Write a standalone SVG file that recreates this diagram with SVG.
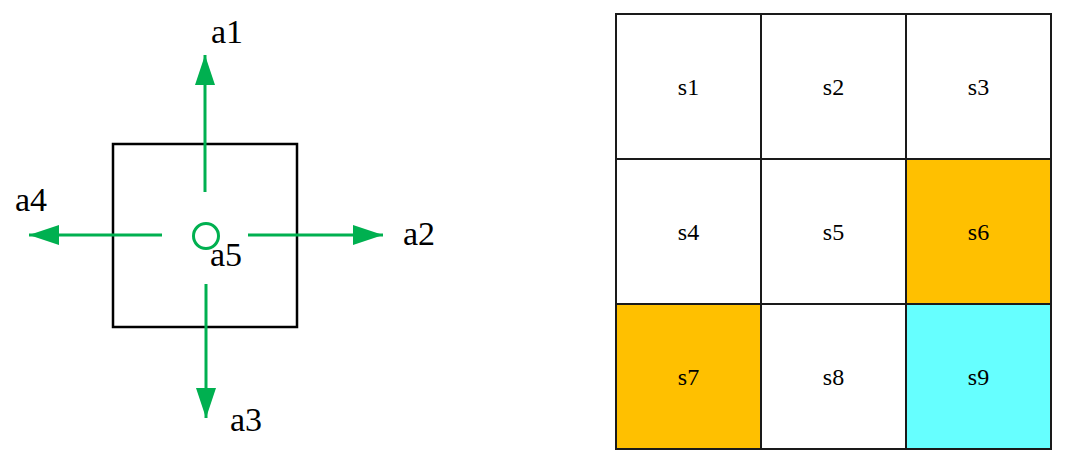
<svg xmlns="http://www.w3.org/2000/svg" width="1065" height="464" viewBox="0 0 1065 464">
<style>
.lbl{font-family:"Liberation Serif","Times New Roman",serif;font-size:34px;fill:#000}
.cell{stroke:#1a1a1a;stroke-width:2}
.ct{font-family:"Liberation Serif","Times New Roman",serif;font-size:24px;fill:#000;text-anchor:middle}
.arr{stroke:#00B050;stroke-width:3;fill:none}
</style>
<defs>
<marker id="ah" viewBox="0 0 30 20" refX="30" refY="10" markerWidth="30" markerHeight="20" markerUnits="userSpaceOnUse" orient="auto">
<path d="M0,0 L30,10 L0,20 Z" fill="#00B050"/>
</marker>
</defs>
<rect width="1065" height="464" fill="#fff"/>
<g id="agent">
<rect x="113" y="144" width="184" height="183" fill="none" stroke="#000" stroke-width="2.5"/>
<circle cx="206" cy="236" r="12.5" fill="none" stroke="#00B050" stroke-width="3"/>
</g>
<g id="connectors">
<line class="arr" x1="205" y1="192" x2="205" y2="55" marker-end="url(#ah)"/>
<line class="arr" x1="248" y1="235" x2="383" y2="235" marker-end="url(#ah)"/>
<line class="arr" x1="206" y1="284" x2="206" y2="418" marker-end="url(#ah)"/>
<line class="arr" x1="162" y1="235" x2="29" y2="235" marker-end="url(#ah)"/>
</g>
<g id="labels">
<text class="lbl" x="211" y="43">a1</text>
<text class="lbl" x="403" y="245">a2</text>
<text class="lbl" x="230" y="431">a3</text>
<text class="lbl" x="15" y="211">a4</text>
<text class="lbl" x="210" y="266">a5</text>
</g>
<g id="grid">
<g id="s1"><rect class="cell" x="616" y="14" width="145" height="145" fill="#fff"/><text class="ct" x="688.5" y="95">s1</text></g>
<g id="s2"><rect class="cell" x="761" y="14" width="145" height="145" fill="#fff"/><text class="ct" x="833.5" y="95">s2</text></g>
<g id="s3"><rect class="cell" x="906" y="14" width="145" height="145" fill="#fff"/><text class="ct" x="978.5" y="95">s3</text></g>
<g id="s4"><rect class="cell" x="616" y="159" width="145" height="145" fill="#fff"/><text class="ct" x="688.5" y="240">s4</text></g>
<g id="s5"><rect class="cell" x="761" y="159" width="145" height="145" fill="#fff"/><text class="ct" x="833.5" y="240">s5</text></g>
<g id="s6"><rect class="cell" x="906" y="159" width="145" height="145" fill="#FFC000"/><text class="ct" x="978.5" y="240">s6</text></g>
<g id="s7"><rect class="cell" x="616" y="304" width="145" height="145" fill="#FFC000"/><text class="ct" x="688.5" y="385">s7</text></g>
<g id="s8"><rect class="cell" x="761" y="304" width="145" height="145" fill="#fff"/><text class="ct" x="833.5" y="385">s8</text></g>
<g id="s9"><rect class="cell" x="906" y="304" width="145" height="145" fill="#66FFFF"/><text class="ct" x="978.5" y="385">s9</text></g>
</g>
</svg>
